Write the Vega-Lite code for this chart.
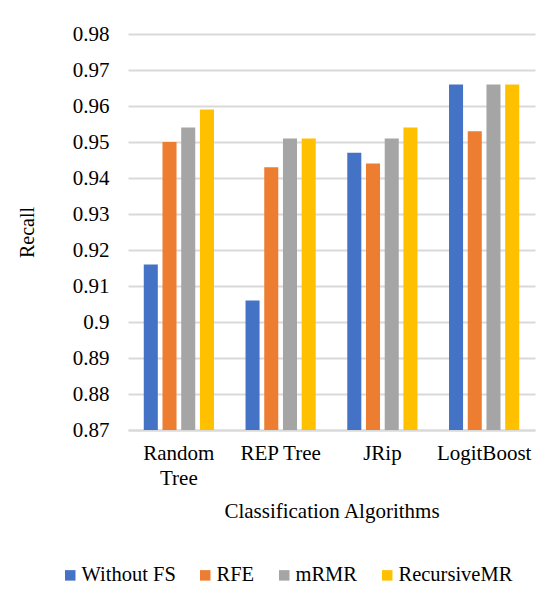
{
  "$schema": "https://vega.github.io/schema/vega-lite/v6.json",
  "width": 407,
  "height": 396,
  "autosize": "none",
  "padding": {"left": 128, "top": 34, "right": 22, "bottom": 179},
  "background": "white",
  "config": {
    "font": "Liberation Serif",
    "axis": {"labelFont": "Liberation Serif", "titleFont": "Liberation Serif"},
    "legend": {"labelFont": "Liberation Serif", "titleFont": "Liberation Serif", "padding": 0},
    "view": {"stroke": null}
  },
  "data": {
    "values": [
      {"algo": "Random Tree", "method": "Without FS", "recall": 0.916},
      {"algo": "Random Tree", "method": "RFE", "recall": 0.950},
      {"algo": "Random Tree", "method": "mRMR", "recall": 0.954},
      {"algo": "Random Tree", "method": "RecursiveMR", "recall": 0.959},
      {"algo": "REP Tree", "method": "Without FS", "recall": 0.906},
      {"algo": "REP Tree", "method": "RFE", "recall": 0.943},
      {"algo": "REP Tree", "method": "mRMR", "recall": 0.951},
      {"algo": "REP Tree", "method": "RecursiveMR", "recall": 0.951},
      {"algo": "JRip", "method": "Without FS", "recall": 0.947},
      {"algo": "JRip", "method": "RFE", "recall": 0.944},
      {"algo": "JRip", "method": "mRMR", "recall": 0.951},
      {"algo": "JRip", "method": "RecursiveMR", "recall": 0.954},
      {"algo": "LogitBoost", "method": "Without FS", "recall": 0.966},
      {"algo": "LogitBoost", "method": "RFE", "recall": 0.953},
      {"algo": "LogitBoost", "method": "mRMR", "recall": 0.966},
      {"algo": "LogitBoost", "method": "RecursiveMR", "recall": 0.966}
    ]
  },
  "mark": {"type": "bar", "clip": true},
  "encoding": {
    "x": {
      "field": "algo",
      "type": "nominal",
      "sort": ["Random Tree", "REP Tree", "JRip", "LogitBoost"],
      "scale": {"paddingInner": 0.31, "paddingOuter": 0.155},
      "axis": {
        "title": "Classification Algorithms",
        "titleFont": "Liberation Serif",
        "titleFontSize": 21,
        "titleFontWeight": "normal",
        "titleColor": "black",
        "titlePadding": 12,
        "labelFont": "Liberation Serif",
        "labelAngle": 0,
        "labelFontSize": 21,
        "labelColor": "black",
        "labelPadding": 12,
        "labelLineHeight": 25,
        "labelExpr": "datum.label == 'Random Tree' ? ['Random', 'Tree'] : datum.label",
        "ticks": false,
        "domain": true,
        "domainColor": "#d9d9d9",
        "domainWidth": 2
      }
    },
    "xOffset": {
      "field": "method",
      "type": "nominal",
      "sort": ["Without FS", "RFE", "mRMR", "RecursiveMR"],
      "scale": {"paddingInner": 0.25, "paddingOuter": 0}
    },
    "y": {
      "field": "recall",
      "type": "quantitative",
      "scale": {"domain": [0.87, 0.98], "zero": false, "nice": false},
      "axis": {
        "values": [0.87, 0.88, 0.89, 0.9, 0.91, 0.92, 0.93, 0.94, 0.95, 0.96, 0.97, 0.98],
        "labelExpr": "format(datum.value, '.2~f')",
        "labelFont": "Liberation Serif",
        "labelFontSize": 21,
        "labelColor": "black",
        "labelPadding": 19,
        "title": "Recall",
        "titleFont": "Liberation Serif",
        "titleFontSize": 20,
        "titleFontWeight": "normal",
        "titleColor": "black",
        "titlePadding": 35,
        "domain": false,
        "ticks": false,
        "grid": true,
        "gridColor": "#d9d9d9",
        "gridWidth": 2
      }
    },
    "color": {
      "field": "method",
      "type": "nominal",
      "sort": ["Without FS", "RFE", "mRMR", "RecursiveMR"],
      "scale": {
        "domain": ["Without FS", "RFE", "mRMR", "RecursiveMR"],
        "range": ["#4472C4", "#ED7D31", "#A5A5A5", "#FFC000"]
      },
      "legend": {
        "title": null,
        "orient": "none",
        "direction": "horizontal",
        "legendX": -68,
        "legendY": 531,
        "symbolType": "square",
        "symbolSize": 110,
        "symbolStrokeWidth": 0,
        "labelFont": "Liberation Serif",
        "labelFontSize": 20.5,
        "labelColor": "black",
        "labelOffset": 1,
        "columnPadding": 19
      }
    }
  }
}
